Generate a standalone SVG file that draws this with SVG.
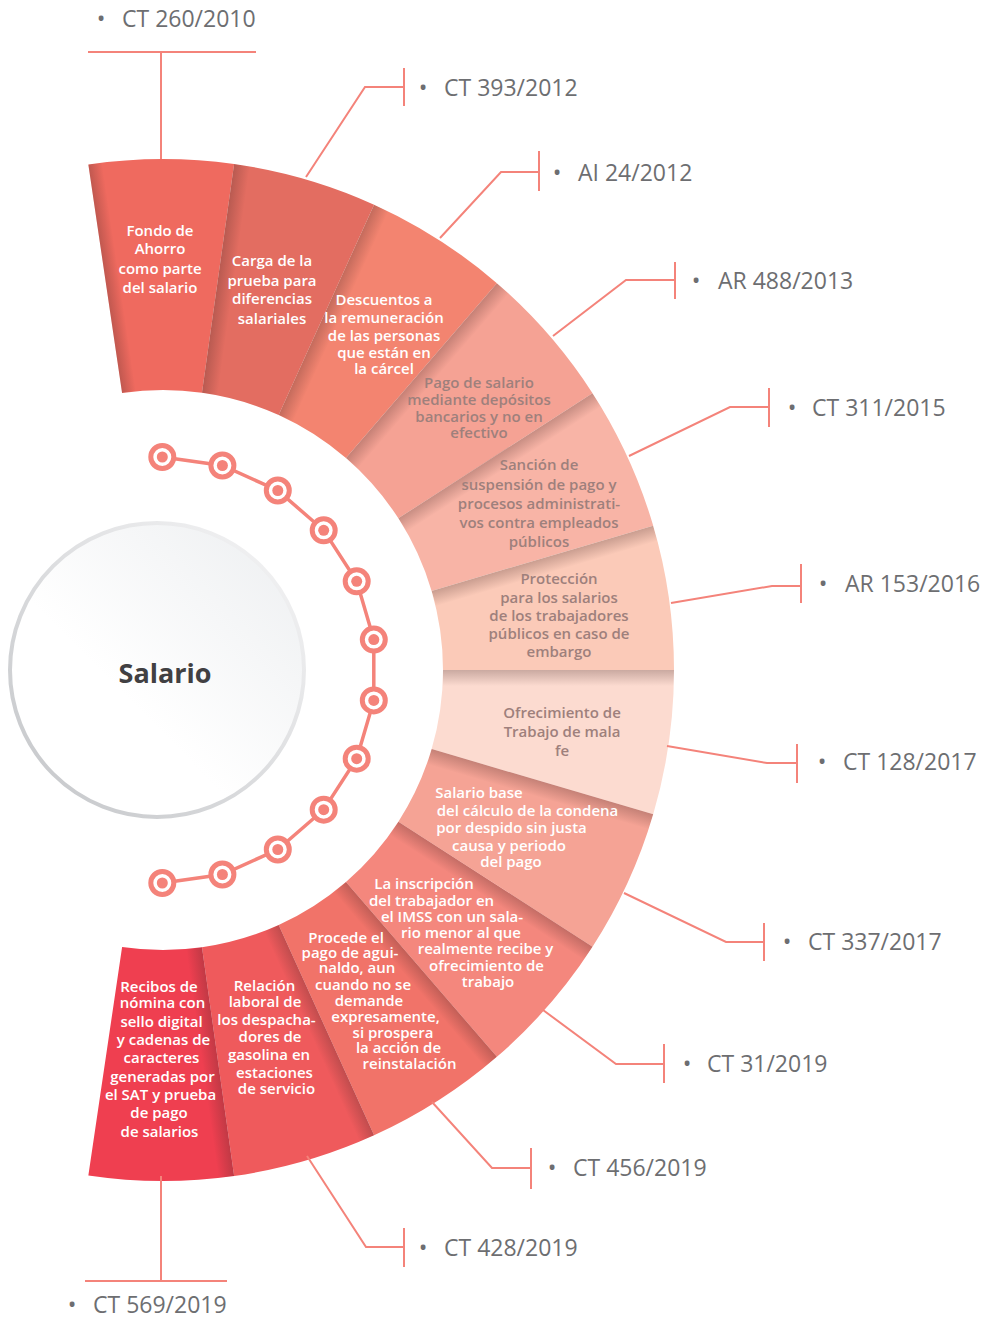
<svg xmlns="http://www.w3.org/2000/svg" width="989" height="1319" viewBox="0 0 989 1319">
<defs>
<style>
.st text{font-family:"Open Sans","Liberation Sans",sans-serif;font-weight:600;font-size:15px;text-anchor:middle;fill:#ffffff}
.st.dk text{fill:#9e807c}
.lbl{font-family:"Open Sans","Liberation Sans",sans-serif;font-size:23px;fill:#6d6e71}
.bul{font-family:"Open Sans","Liberation Sans",sans-serif;font-size:23px;fill:#6d6e71;text-anchor:middle}
.ld{fill:none;stroke:#F4837A;stroke-width:2}
.dot{fill:#ffffff;stroke:#F4837A;stroke-width:5}
.dc{fill:#F4837A}
</style>
<linearGradient id="sh" x1="0" y1="0" x2="0" y2="1">
<stop offset="0" stop-color="#4a2a28" stop-opacity="0.28"/>
<stop offset="1" stop-color="#4a2a28" stop-opacity="0"/>
</linearGradient>
<linearGradient id="cfill" x1="1" y1="0" x2="0" y2="1">
<stop offset="0" stop-color="#eceef0"/>
<stop offset="0.6" stop-color="#ffffff"/>
<stop offset="1" stop-color="#ffffff"/>
</linearGradient>
<linearGradient id="cstroke" x1="1" y1="0" x2="0" y2="1">
<stop offset="0" stop-color="#f6f6f7"/>
<stop offset="1" stop-color="#c3c5c8"/>
</linearGradient>
<clipPath id="ring">
<path clip-rule="evenodd" d="M-348,670 A511,511 0 1 1 674,670 A511,511 0 1 1 -348,670 Z M-117,670 A280,280 0 1 0 443,670 A280,280 0 1 0 -117,670 Z"/>
</clipPath>
</defs>
<rect width="989" height="1319" fill="#ffffff"/>

<g id="segments">
<path id="seg1" fill="#EF6A5F" d="M88.35,164.48 A511,511 0 0 1 234.12,163.97 L201.97,392.72 A280,280 0 0 0 122.10,393.00 Z"/>
<path id="seg2" fill="#E36D61" d="M234.12,163.97 A511,511 0 0 1 374.09,204.64 L278.67,415.01 A280,280 0 0 0 201.97,392.72 Z"/>
<path id="seg3" fill="#F38470" d="M374.09,204.64 A511,511 0 0 1 496.90,283.17 L345.96,458.04 A280,280 0 0 0 278.67,415.01 Z"/>
<path id="seg4" fill="#F5A294" d="M496.90,283.17 A511,511 0 0 1 592.53,393.19 L398.36,518.32 A280,280 0 0 0 345.96,458.04 Z"/>
<path id="seg5" fill="#F8B4A6" d="M592.53,393.19 A511,511 0 0 1 653.21,525.72 L431.61,590.94 A280,280 0 0 0 398.36,518.32 Z"/>
<path id="seg6" fill="#FBCAB8" d="M653.21,525.72 A511,511 0 0 1 674,670 L443,670 A280,280 0 0 0 431.61,590.94 Z"/>
<path id="seg7" fill="#FCDBD0" d="M674,670 A511,511 0 0 1 653.21,814.28 L431.61,749.06 A280,280 0 0 0 443,670 Z"/>
<path id="seg8" fill="#F5A395" d="M653.21,814.28 A511,511 0 0 1 592.53,946.81 L398.36,821.68 A280,280 0 0 0 431.61,749.06 Z"/>
<path id="seg9" fill="#F4877D" d="M592.53,946.81 A511,511 0 0 1 496.90,1056.83 L345.96,881.96 A280,280 0 0 0 398.36,821.68 Z"/>
<path id="seg10" fill="#F17369" d="M496.90,1056.83 A511,511 0 0 1 374.09,1135.36 L278.67,924.99 A280,280 0 0 0 345.96,881.96 Z"/>
<path id="seg11" fill="#EF5A5C" d="M374.09,1135.36 A511,511 0 0 1 234.12,1176.03 L201.97,947.28 A280,280 0 0 0 278.67,924.99 Z"/>
<path id="seg12" fill="#EF3F50" d="M234.12,1176.03 A511,511 0 0 1 88.35,1175.52 L122.10,947.00 A280,280 0 0 0 201.97,947.28 Z"/>
</g>

<g id="shadows" clip-path="url(#ring)">
<rect x="443" y="670" width="231" height="14" fill="url(#sh)" transform="rotate(-98.4 163 670)"/>
<rect x="443" y="670" width="231" height="16" fill="url(#sh)" transform="rotate(-82 163 670)"/>
<rect x="443" y="670" width="231" height="16" fill="url(#sh)" transform="rotate(-65.6 163 670)"/>
<rect x="443" y="670" width="231" height="16" fill="url(#sh)" transform="rotate(-49.2 163 670)"/>
<rect x="443" y="670" width="231" height="16" fill="url(#sh)" transform="rotate(-32.8 163 670)"/>
<rect x="443" y="670" width="231" height="16" fill="url(#sh)" transform="rotate(-16.4 163 670)"/>
<rect x="443" y="670" width="231" height="16" fill="url(#sh)"/>
<rect x="443" y="670" width="231" height="16" fill="url(#sh)" transform="rotate(16.4 163 670)"/>
<rect x="443" y="670" width="231" height="16" fill="url(#sh)" transform="rotate(32.8 163 670)"/>
<rect x="443" y="670" width="231" height="16" fill="url(#sh)" transform="rotate(49.2 163 670)"/>
<rect x="443" y="670" width="231" height="16" fill="url(#sh)" transform="rotate(65.6 163 670)"/>
<rect x="443" y="670" width="231" height="16" fill="url(#sh)" transform="rotate(82 163 670)"/>
</g>

<g id="seg-text">
<g id="t1" class="st"><text x="160" y="236">Fondo de</text><text x="160" y="254">Ahorro</text><text x="160" y="274">como parte</text><text x="160" y="293">del salario</text></g>
<g id="t2" class="st"><text x="272" y="266">Carga de la</text><text x="272" y="286">prueba para</text><text x="272" y="304">diferencias</text><text x="272" y="324">salariales</text></g>
<g id="t3" class="st"><text x="384" y="305">Descuentos a</text><text x="384" y="323">la remuneración</text><text x="384" y="341">de las personas</text><text x="384" y="358">que están en</text><text x="384" y="374">la cárcel</text></g>
<g id="t4" class="st dk"><text x="479" y="388">Pago de salario</text><text x="479" y="405">mediante depósitos</text><text x="479" y="422">bancarios y no en</text><text x="479" y="438">efectivo</text></g>
<g id="t5" class="st dk"><text x="539" y="470">Sanción de</text><text x="539" y="490">suspensión de pago y</text><text x="539" y="509">procesos administrati-</text><text x="539" y="528">vos contra empleados</text><text x="539" y="547">públicos</text></g>
<g id="t6" class="st dk"><text x="559" y="584">Protección</text><text x="559" y="603">para los salarios</text><text x="559" y="621">de los trabajadores</text><text x="559" y="639">públicos en caso de</text><text x="559" y="657">embargo</text></g>
<g id="t7" class="st dk"><text x="562" y="718">Ofrecimiento de</text><text x="562" y="737">Trabajo de mala</text><text x="562" y="756">fe</text></g>
<g id="t8" class="st"><text x="479" y="798">Salario base</text><text x="527.5" y="816">del cálculo de la condena</text><text x="511.5" y="833">por despido sin justa</text><text x="509" y="851">causa y periodo</text><text x="511" y="867">del pago</text></g>
<g id="t9" class="st"><text x="424" y="889">La inscripción</text><text x="431.5" y="906">del trabajador en</text><text x="452" y="922">el IMSS con un sala-</text><text x="461" y="938">rio menor al que</text><text x="485.5" y="954">realmente recibe y</text><text x="486.5" y="971">ofrecimiento de</text><text x="488" y="987">trabajo</text></g>
<g id="t10" class="st"><text x="346" y="943">Procede el</text><text x="350" y="958">pago de agui-</text><text x="357" y="973">naldo, aun</text><text x="363" y="990">cuando no se</text><text x="369" y="1006">demande</text><text x="385.5" y="1022">expresamente,</text><text x="393" y="1038">si prospera</text><text x="398.5" y="1053">la acción de</text><text x="409.5" y="1069">reinstalación</text></g>
<g id="t11" class="st"><text x="264.5" y="991">Relación</text><text x="265" y="1007">laboral de</text><text x="266.5" y="1025">los despacha-</text><text x="270" y="1042">dores de</text><text x="269" y="1060">gasolina en</text><text x="274.5" y="1078">estaciones</text><text x="276.5" y="1094">de servicio</text></g>
<g id="t12" class="st"><text x="159" y="992">Recibos de</text><text x="162.5" y="1008">nómina con</text><text x="161.5" y="1027">sello digital</text><text x="163.5" y="1045">y cadenas de</text><text x="161.5" y="1063">caracteres</text><text x="162.5" y="1082">generadas por</text><text x="160.5" y="1100">el SAT y prueba</text><text x="159" y="1118">de pago</text><text x="159.5" y="1137">de salarios</text></g>
</g>

<g id="center">
<circle cx="157" cy="670" r="147" fill="url(#cfill)" stroke="url(#cstroke)" stroke-width="4"/>
<text x="165" y="683" style="font-family:'Open Sans','Liberation Sans',sans-serif;font-weight:700;font-size:27px;fill:#414042;text-anchor:middle">Salario</text>
</g>

<g id="chain">
<polyline fill="none" stroke="#F4837A" stroke-width="3.5" points="162.3,457 222.4,465.5 277.8,490.5 323.7,530.3 356.7,581.3 373.8,639.6 373.8,700.4 356.7,758.7 323.7,809.7 277.8,849.5 222.4,874.5 162.3,883"/>
<circle class="dot" cx="162.3" cy="457" r="11.5"/><circle class="dc" cx="162.3" cy="457" r="5.5"/>
<circle class="dot" cx="222.4" cy="465.5" r="11.5"/><circle class="dc" cx="222.4" cy="465.5" r="5.5"/>
<circle class="dot" cx="277.8" cy="490.5" r="11.5"/><circle class="dc" cx="277.8" cy="490.5" r="5.5"/>
<circle class="dot" cx="323.7" cy="530.3" r="11.5"/><circle class="dc" cx="323.7" cy="530.3" r="5.5"/>
<circle class="dot" cx="356.7" cy="581.3" r="11.5"/><circle class="dc" cx="356.7" cy="581.3" r="5.5"/>
<circle class="dot" cx="373.8" cy="639.6" r="11.5"/><circle class="dc" cx="373.8" cy="639.6" r="5.5"/>
<circle class="dot" cx="373.8" cy="700.4" r="11.5"/><circle class="dc" cx="373.8" cy="700.4" r="5.5"/>
<circle class="dot" cx="356.7" cy="758.7" r="11.5"/><circle class="dc" cx="356.7" cy="758.7" r="5.5"/>
<circle class="dot" cx="323.7" cy="809.7" r="11.5"/><circle class="dc" cx="323.7" cy="809.7" r="5.5"/>
<circle class="dot" cx="277.8" cy="849.5" r="11.5"/><circle class="dc" cx="277.8" cy="849.5" r="5.5"/>
<circle class="dot" cx="222.4" cy="874.5" r="11.5"/><circle class="dc" cx="222.4" cy="874.5" r="5.5"/>
<circle class="dot" cx="162.3" cy="883" r="11.5"/><circle class="dc" cx="162.3" cy="883" r="5.5"/>
</g>

<g id="connectors">
<path class="ld" d="M161,159 V52 M88,52 H256"/>
<path class="ld" d="M306,177 L365,87 H404 M404,68 V106"/>
<path class="ld" d="M440,238 L501,172 H539 M539,151 V191"/>
<path class="ld" d="M553,336 L626,280 H675 M675,262 V299"/>
<path class="ld" d="M629,456 L730,407 H769 M769,388 V427"/>
<path class="ld" d="M671,603 L772,586 H801 M801,564 V603"/>
<path class="ld" d="M667,746 L767,763 H797 M797,744 V783"/>
<path class="ld" d="M624,893 L726,942 H764 M764,923 V961"/>
<path class="ld" d="M543,1010 L616,1064 H664 M664,1044 V1083"/>
<path class="ld" d="M432,1102 L492,1168 H531 M531,1148 V1189"/>
<path class="ld" d="M307,1156 L366,1247 H404 M404,1228 V1267"/>
<path class="ld" d="M161,1176 V1281 M85,1281 H227"/>
</g>

<g id="labels">
<g id="l1"><text class="bul" x="101" y="27">•</text><text class="lbl" x="122" y="27">CT 260/2010</text></g>
<g id="l2"><text class="bul" x="423" y="96">•</text><text class="lbl" x="444" y="96">CT 393/2012</text></g>
<g id="l3"><text class="bul" x="557" y="181">•</text><text class="lbl" x="578" y="181">AI 24/2012</text></g>
<g id="l4"><text class="bul" x="696" y="289">•</text><text class="lbl" x="718" y="289">AR 488/2013</text></g>
<g id="l5"><text class="bul" x="792" y="416">•</text><text class="lbl" x="812" y="416">CT 311/2015</text></g>
<g id="l6"><text class="bul" x="823" y="592">•</text><text class="lbl" x="845" y="592">AR 153/2016</text></g>
<g id="l7"><text class="bul" x="822" y="770">•</text><text class="lbl" x="843" y="770">CT 128/2017</text></g>
<g id="l8"><text class="bul" x="787" y="950">•</text><text class="lbl" x="808" y="950">CT 337/2017</text></g>
<g id="l9"><text class="bul" x="687" y="1072">•</text><text class="lbl" x="707" y="1072">CT 31/2019</text></g>
<g id="l10"><text class="bul" x="552" y="1176">•</text><text class="lbl" x="573" y="1176">CT 456/2019</text></g>
<g id="l11"><text class="bul" x="423" y="1256">•</text><text class="lbl" x="444" y="1256">CT 428/2019</text></g>
<g id="l12"><text class="bul" x="72" y="1313">•</text><text class="lbl" x="93" y="1313">CT 569/2019</text></g>
</g>
</svg>
